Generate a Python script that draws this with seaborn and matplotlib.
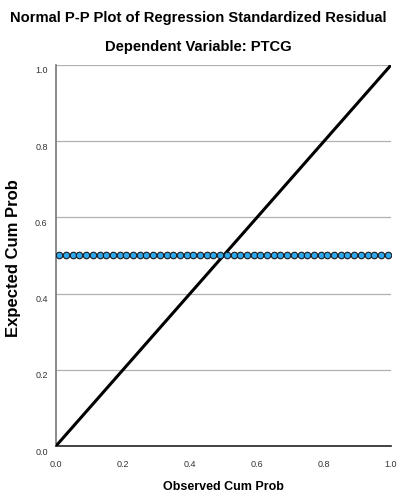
import numpy as np
import pandas as pd
import matplotlib
matplotlib.use("Agg")
import matplotlib.pyplot as plt
import seaborn as sns
from matplotlib.transforms import ScaledTranslation

# Data
n_points = 50
observed = [(i - 0.5) / n_points for i in range(1, n_points + 1)]
expected = [0.5] * n_points
ref_line = [0.0, 1.0]
ticks = [0.0, 0.2, 0.4, 0.6, 0.8, 1.0]
tick_labels = ["0.0", "0.2", "0.4", "0.6", "0.8", "1.0"]

sns.set_style("white")
plt.rcParams['font.family'] = ['Liberation Sans', 'DejaVu Sans']
plt.rcParams['text.color'] = 'black'
plt.rcParams['axes.labelcolor'] = 'black'

fig = plt.figure(figsize=(3.97, 4.98), dpi=100)
ax = fig.add_axes([0.141, 0.1044, 0.844, 0.7651])

df = pd.DataFrame({"obs": observed, "exp": expected})

for t in ticks[1:]:
    ax.axhline(t, color="#b0b0b0", lw=0.9, zorder=0)

sns.lineplot(x=ref_line, y=ref_line, ax=ax, color="black", lw=2.2, zorder=3)
sns.scatterplot(data=df, x="obs", y="exp", ax=ax, s=22, color="#2ea8ef",
                edgecolor="#1a1a1a", linewidth=0.8, zorder=4)

ax.set_xlim(0, 1)
ax.set_ylim(0, 1)
ax.set_xticks(ticks)
ax.set_xticklabels(tick_labels)
ax.set_yticks(ticks)
ax.set_yticklabels(tick_labels)
ax.tick_params(axis="both", length=0, labelsize=6.5, colors="#333333")
ax.tick_params(axis="x", pad=10)
ax.tick_params(axis="y", pad=6)

# shift y tick labels slightly downward as in the reference
offset = ScaledTranslation(0, -5 / 100, fig.dpi_scale_trans)
for lbl in ax.get_yticklabels():
    lbl.set_transform(lbl.get_transform() + offset)

for s in ["top", "right"]:
    ax.spines[s].set_visible(False)
ax.spines["left"].set_color("#777777")
ax.spines["left"].set_linewidth(1.2)
ax.spines["bottom"].set_color("#222222")
ax.spines["bottom"].set_linewidth(1.2)

ax.set_xlabel("Observed Cum Prob", fontsize=9, fontweight="bold")
ax.set_ylabel("Expected Cum Prob", fontsize=12, fontweight="bold")
ax.xaxis.set_label_coords(0.5, -(487 - 446) / 381, transform=ax.transAxes)
ax.xaxis.label.set_va("center")
ax.yaxis.set_label_coords(-(56 - 14) / 335, (446 - 258) / 381, transform=ax.transAxes)
ax.yaxis.label.set_va("center")

fig.text(0.5, 1 - 18 / 498, "Normal P-P Plot of Regression Standardized Residual",
         ha="center", va="center", fontsize=10.6, fontweight="bold", color="black")
fig.text(0.5, 1 - 47 / 498, "Dependent Variable: PTCG",
         ha="center", va="center", fontsize=10.6, fontweight="bold", color="black")

fig.savefig("out.png", dpi=100)
